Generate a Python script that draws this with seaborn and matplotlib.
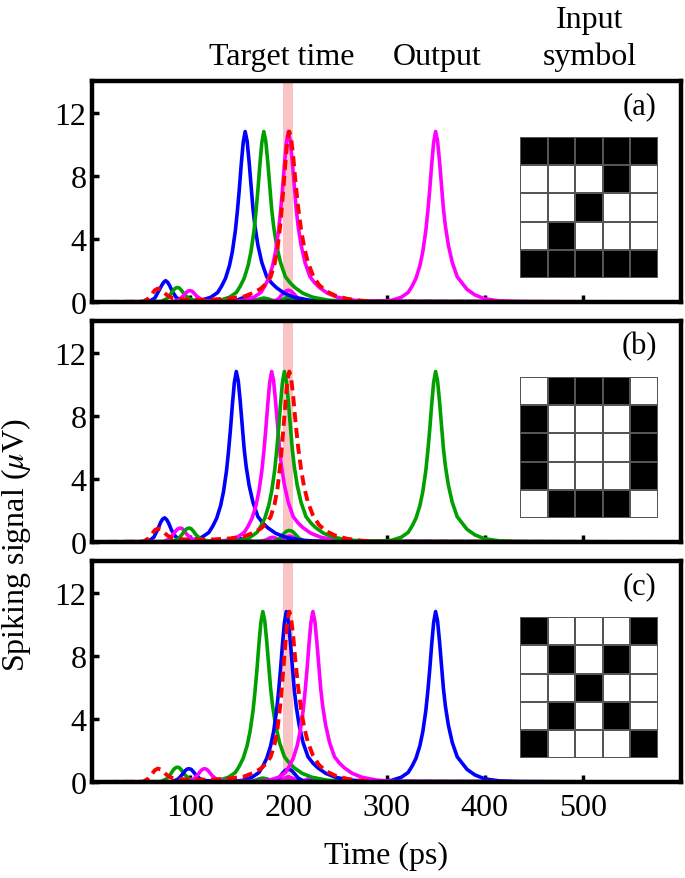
import numpy as np
import seaborn as sns
import matplotlib.pyplot as plt
from matplotlib.colors import ListedColormap

# axis ticks and the target window (ps)
time_ticks = [100, 200, 300, 400, 500]
signal_ticks = [0, 4, 8, 12]
target_window = [195, 205]

# output spike at 350 ps (shared shape)
output_t = [290, 305, 315, 322, 326, 330, 334, 337, 340, 342, 344, 346, 348, 350, 352,
            354, 356, 358, 360, 363, 367, 372, 377, 382, 390, 400, 415, 435, 600]
output_y = [0.05, 0.1, 0.3, 0.6, 1.0, 1.5, 2.3, 3.2, 4.5, 5.7, 7.1, 8.7, 10.1, 10.8, 10.2,
            8.9, 7.4, 5.9, 4.8, 3.6, 2.5, 1.6, 1.2, 0.8, 0.45, 0.2, 0.07, 0.02, 0]

# target signal (red dashed), same in every panel
target_t = [0, 52, 57, 61, 64, 67, 70, 73, 77, 82, 90, 100, 120, 140, 155, 165, 172, 178, 182, 186,
            189, 192, 195, 197, 199, 201, 203, 205, 207, 210, 213, 216, 220, 225, 231, 238, 248, 260, 275, 290, 600]
target_y = [0, 0.02, 0.2, 0.5, 0.75, 0.85, 0.8, 0.62, 0.4, 0.25, 0.18, 0.15, 0.15, 0.22, 0.35, 0.6, 0.85, 1.2, 1.6, 2.4,
            3.4, 5.0, 7.2, 8.8, 10.2, 10.8, 10.3, 9.2, 7.8, 6.0, 4.6, 3.5, 2.5, 1.7, 1.1, 0.7, 0.4, 0.2, 0.08, 0.02, 0]

# ---- panel (a)
a_blue_t = [0, 58, 64, 68, 71, 73, 75, 77, 79, 82, 86, 90, 96, 111, 121, 128, 132, 136, 140, 143,
            146, 148, 150, 152, 154, 156, 158, 160, 162, 164, 166, 169, 173, 178, 183, 188, 196, 206, 221, 241, 600]
a_blue_y = [0, 0.02, 0.25, 0.7, 1.05, 1.25, 1.35, 1.25, 1.05, 0.65, 0.27, 0.15, 0.08, 0.1, 0.3, 0.6, 1.0, 1.5, 2.3, 3.2,
            4.5, 5.7, 7.1, 8.7, 10.1, 10.8, 10.2, 8.9, 7.4, 5.9, 4.8, 3.6, 2.5, 1.6, 1.2, 0.9, 0.55, 0.3, 0.12, 0.03, 0]
a_blue_echo_t = [0, 140, 148, 153, 157, 161, 166, 175, 188, 194, 198, 200, 202, 206, 214, 600]
a_blue_echo_y = [0, 0.02, 0.12, 0.25, 0.3, 0.25, 0.12, 0.03, 0.03, 0.1, 0.19, 0.2, 0.18, 0.1, 0.02, 0]

a_green_t = [0, 70, 76, 80, 83, 85, 87, 89, 91, 94, 98, 103, 110, 115, 130, 140, 147, 151, 155, 159,
             162, 165, 167, 169, 171, 173, 175, 177, 179, 181, 183, 185, 188, 192, 197, 202, 207, 215, 225, 240, 260, 600]
a_green_y = [0, 0.02, 0.2, 0.5, 0.75, 0.88, 0.92, 0.88, 0.75, 0.5, 0.25, 0.12, 0.06, 0.05, 0.1, 0.3, 0.6, 1.0, 1.5, 2.3,
             3.2, 4.5, 5.7, 7.1, 8.7, 10.1, 10.8, 10.2, 8.9, 7.4, 5.9, 4.8, 3.6, 2.5, 1.6, 1.2, 0.9, 0.55, 0.3, 0.12, 0.03, 0]
a_green_echo_t = [0, 160, 167, 171, 175, 179, 184, 190, 194, 198, 200, 202, 206, 212, 600]
a_green_echo_y = [0, 0.02, 0.1, 0.2, 0.25, 0.2, 0.1, 0.05, 0.15, 0.28, 0.3, 0.28, 0.15, 0.03, 0]

a_magenta_t = [0, 83, 89, 93, 96, 98, 100, 102, 104, 107, 111, 116, 125, 140, 155, 165, 172, 176, 180, 184,
               187, 190, 192, 194, 196, 198, 200, 202, 204, 206, 208, 210, 213, 217, 222, 227, 232, 240, 250, 265, 280] + output_t
a_magenta_y = [0, 0.02, 0.15, 0.4, 0.6, 0.7, 0.72, 0.68, 0.55, 0.35, 0.18, 0.08, 0.03, 0.03, 0.1, 0.3, 0.6, 1.0, 1.5, 2.3,
               3.2, 4.5, 5.7, 7.1, 8.7, 10.1, 10.8, 10.2, 8.9, 7.4, 5.9, 4.8, 3.6, 2.5, 1.6, 1.2, 0.9, 0.55, 0.3, 0.12, 0.05] + output_y
a_magenta_echo_t = [0, 185, 190, 194, 197, 200, 203, 206, 210, 216, 600]
a_magenta_echo_y = [0, 0.03, 0.2, 0.5, 0.68, 0.75, 0.68, 0.5, 0.22, 0.05, 0]

# ---- panel (b)
b_blue_t = [0, 57, 63, 67, 70, 72, 74, 76, 78, 81, 85, 89, 95, 102, 112, 119, 123, 127, 131, 134,
            137, 139, 141, 143, 145, 147, 149, 151, 153, 155, 157, 160, 164, 169, 174, 179, 187, 197, 212, 232, 600]
b_blue_y = [0, 0.02, 0.3, 0.8, 1.25, 1.45, 1.53, 1.42, 1.2, 0.75, 0.35, 0.17, 0.12, 0.12, 0.3, 0.6, 1.0, 1.5, 2.3, 3.2,
            4.5, 5.7, 7.1, 8.7, 10.1, 10.8, 10.2, 8.9, 7.4, 5.9, 4.8, 3.6, 2.5, 1.6, 1.2, 0.9, 0.55, 0.3, 0.12, 0.03, 0]
b_blue_echo_t = [0, 132, 139, 143, 147, 151, 156, 164, 600]
b_blue_echo_y = [0, 0.02, 0.12, 0.22, 0.27, 0.22, 0.1, 0.02, 0]

b_magenta_t = [0, 73, 79, 83, 86, 88, 90, 92, 94, 97, 101, 106, 112, 123, 138, 148, 155, 159, 163, 167,
               170, 173, 175, 177, 179, 181, 183, 185, 187, 189, 191, 193, 196, 200, 205, 210, 215, 223, 233, 248, 268, 600]
b_magenta_y = [0, 0.02, 0.2, 0.5, 0.75, 0.85, 0.88, 0.84, 0.7, 0.45, 0.22, 0.1, 0.05, 0.03, 0.1, 0.3, 0.6, 1.0, 1.5, 2.3,
               3.2, 4.5, 5.7, 7.1, 8.7, 10.1, 10.8, 10.2, 8.9, 7.4, 5.9, 4.8, 3.6, 2.5, 1.6, 1.2, 0.9, 0.55, 0.3, 0.12, 0.03, 0]
b_magenta_echo_t = [0, 170, 177, 181, 184, 187, 191, 194, 197, 201, 205, 210, 218, 600]
b_magenta_echo_y = [0, 0.02, 0.12, 0.25, 0.3, 0.25, 0.12, 0.15, 0.3, 0.38, 0.3, 0.12, 0.02, 0]

b_green_t = [0, 82, 88, 92, 95, 97, 99, 101, 103, 106, 110, 115, 122, 136, 151, 161, 168, 172, 176, 180,
             183, 186, 188, 190, 192, 194, 196, 198, 200, 202, 204, 206, 209, 213, 218, 223, 228, 236, 246, 261, 280] + output_t
b_green_y = [0, 0.02, 0.2, 0.5, 0.75, 0.85, 0.88, 0.84, 0.7, 0.45, 0.22, 0.1, 0.05, 0.04, 0.1, 0.3, 0.6, 1.0, 1.5, 2.3,
             3.2, 4.5, 5.7, 7.1, 8.7, 10.1, 10.8, 10.2, 8.9, 7.4, 5.9, 4.8, 3.6, 2.5, 1.6, 1.2, 0.9, 0.55, 0.3, 0.12, 0.05] + output_y
b_green_echo_t = [0, 186, 191, 195, 198, 201, 204, 207, 211, 217, 600]
b_green_echo_y = [0, 0.03, 0.2, 0.5, 0.68, 0.73, 0.68, 0.5, 0.22, 0.05, 0]

# ---- panel (c)
c_green_t = [0, 70, 76, 80, 83, 85, 87, 89, 91, 94, 98, 103, 110, 114, 129, 139, 146, 150, 154, 158,
             161, 164, 166, 168, 170, 172, 174, 176, 178, 180, 182, 184, 187, 191, 196, 201, 206, 214, 224, 239, 259, 600]
c_green_y = [0, 0.02, 0.2, 0.5, 0.78, 0.9, 0.94, 0.9, 0.77, 0.5, 0.25, 0.12, 0.06, 0.05, 0.1, 0.3, 0.6, 1.0, 1.5, 2.3,
             3.2, 4.5, 5.7, 7.1, 8.7, 10.1, 10.8, 10.2, 8.9, 7.4, 5.9, 4.8, 3.6, 2.5, 1.6, 1.2, 0.9, 0.55, 0.3, 0.12, 0.03, 0]
c_green_echo_t = [0, 160, 166, 170, 174, 178, 183, 190, 195, 198, 200, 202, 206, 212, 600]
c_green_echo_y = [0, 0.02, 0.1, 0.2, 0.25, 0.2, 0.1, 0.03, 0.1, 0.18, 0.2, 0.18, 0.1, 0.02, 0]

c_blue_t = [0, 82, 88, 92, 95, 97, 99, 101, 103, 106, 110, 115, 122, 138, 153, 163, 170, 174, 178, 182,
            185, 188, 190, 192, 194, 196, 198, 200, 202, 204, 206, 208, 211, 215, 220, 225, 230, 238, 248, 263, 280] + output_t
c_blue_y = [0, 0.02, 0.2, 0.48, 0.72, 0.82, 0.84, 0.8, 0.67, 0.43, 0.2, 0.1, 0.05, 0.03, 0.1, 0.3, 0.6, 1.0, 1.5, 2.3,
            3.2, 4.5, 5.7, 7.1, 8.7, 10.1, 10.8, 10.2, 8.9, 7.4, 5.9, 4.8, 3.6, 2.5, 1.6, 1.2, 0.9, 0.55, 0.3, 0.12, 0.05] + output_y
c_blue_echo_t = [0, 185, 190, 194, 197, 200, 203, 206, 210, 216, 600]
c_blue_echo_y = [0, 0.03, 0.22, 0.55, 0.75, 0.8, 0.75, 0.55, 0.25, 0.05, 0]

c_magenta_t = [0, 98, 104, 108, 111, 113, 115, 117, 119, 122, 126, 131, 140, 165, 180, 190, 197, 201, 205, 209,
               212, 215, 217, 219, 221, 223, 225, 227, 229, 231, 233, 235, 238, 242, 247, 252, 257, 265, 275, 290, 310, 600]
c_magenta_y = [0, 0.02, 0.2, 0.48, 0.72, 0.82, 0.84, 0.8, 0.67, 0.43, 0.2, 0.1, 0.05, 0.03, 0.1, 0.3, 0.6, 1.0, 1.5, 2.3,
               3.2, 4.5, 5.7, 7.1, 8.7, 10.1, 10.8, 10.2, 8.9, 7.4, 5.9, 4.8, 3.6, 2.5, 1.6, 1.2, 0.9, 0.55, 0.3, 0.12, 0.03, 0]
c_magenta_echo_t = [0, 186, 192, 196, 200, 204, 209, 213, 217, 221, 225, 229, 234, 242, 600]
c_magenta_echo_y = [0, 0.02, 0.12, 0.25, 0.3, 0.25, 0.1, 0.05, 0.12, 0.22, 0.27, 0.22, 0.1, 0.02, 0]

# input symbols (1 = black pixel)
symbol_a = [[1, 1, 1, 1, 1], [0, 0, 0, 1, 0], [0, 0, 1, 0, 0], [0, 1, 0, 0, 0], [1, 1, 1, 1, 1]]
symbol_b = [[0, 1, 1, 1, 0], [1, 0, 0, 0, 1], [1, 0, 0, 0, 1], [1, 0, 0, 0, 1], [0, 1, 1, 1, 0]]
symbol_c = [[1, 0, 0, 0, 1], [0, 1, 0, 1, 0], [0, 0, 1, 0, 0], [0, 1, 0, 1, 0], [1, 0, 0, 0, 1]]

BLUE, GREEN, MAGENTA, RED = '#0000ff', '#00a000', '#ff00ff', '#ff0000'

panels = [
    ('(a)', symbol_a,
     [(a_blue_echo_t, a_blue_echo_y, BLUE), (a_green_echo_t, a_green_echo_y, GREEN),
      (a_magenta_echo_t, a_magenta_echo_y, MAGENTA)],
     [(a_blue_t, a_blue_y, BLUE), (a_green_t, a_green_y, GREEN), (a_magenta_t, a_magenta_y, MAGENTA)]),
    ('(b)', symbol_b,
     [(b_blue_echo_t, b_blue_echo_y, BLUE), (b_magenta_echo_t, b_magenta_echo_y, MAGENTA),
      (b_green_echo_t, b_green_echo_y, GREEN)],
     [(b_blue_t, b_blue_y, BLUE), (b_magenta_t, b_magenta_y, MAGENTA), (b_green_t, b_green_y, GREEN)]),
    ('(c)', symbol_c,
     [(c_green_echo_t, c_green_echo_y, GREEN), (c_magenta_echo_t, c_magenta_echo_y, MAGENTA),
      (c_blue_echo_t, c_blue_echo_y, BLUE)],
     [(c_green_t, c_green_y, GREEN), (c_blue_t, c_blue_y, BLUE), (c_magenta_t, c_magenta_y, MAGENTA)]),
]

sns.set_style('ticks')
plt.rcParams['font.family'] = ['Liberation Serif', 'DejaVu Serif']
plt.rcParams['mathtext.fontset'] = 'stix'
plt.rcParams['axes.edgecolor'] = 'black'
plt.rcParams['xtick.color'] = 'black'
plt.rcParams['ytick.color'] = 'black'
plt.rcParams['text.color'] = 'black'

FS = 23

fig = plt.figure(figsize=(6.85, 8.79), dpi=100)
boxes = [[0.1343, 0.6553, 0.8599, 0.2514],
         [0.1343, 0.3823, 0.8599, 0.2514],
         [0.1343, 0.1092, 0.8599, 0.2514]]

for i, (label, symbol, echoes, mains) in enumerate(panels):
    ax = fig.add_axes(boxes[i])
    ax.axvspan(target_window[0], target_window[1], color='#fbc4c4', lw=0, zorder=0)
    for t, y, c in echoes + mains:
        sns.lineplot(x=t, y=y, ax=ax, color=c, lw=2.6, sort=False, estimator=None)
    sns.lineplot(x=target_t, y=target_y, ax=ax, color=RED, lw=2.8, sort=False,
                 estimator=None, linestyle=(0, (2.6, 1.5)))

    ax.set_xlim(0, 600)
    ax.set_ylim(0, 14)
    ax.set_xticks(time_ticks)
    ax.set_yticks(signal_ticks)
    ax.set_xlabel('')
    ax.set_ylabel('')
    ax.tick_params(direction='in', length=5, width=2.5, labelsize=FS, colors='black')
    ax.tick_params(axis='y', pad=4)
    ax.tick_params(axis='x', pad=8)
    if i < 2:
        ax.set_xticklabels([])
    for s in ax.spines.values():
        s.set_linewidth(3.2)
        s.set_color('black')
    ax.text(0.93, 0.887, label, transform=ax.transAxes, ha='center', va='center', fontsize=22)

    inset = ax.inset_axes([0.727, 0.11, 0.234, 0.635])
    sns.heatmap(np.array(symbol), ax=inset, cmap=ListedColormap(['white', 'black']),
                vmin=0, vmax=1, cbar=False, linewidths=1.3, linecolor='#555555',
                xticklabels=False, yticklabels=False)

fig.text(0.412, 0.926, 'Target time', ha='center', va='baseline', fontsize=FS)
fig.text(0.638, 0.926, 'Output', ha='center', va='baseline', fontsize=FS)
fig.text(0.861, 0.968, 'Input', ha='center', va='baseline', fontsize=FS)
fig.text(0.861, 0.926, 'symbol', ha='center', va='baseline', fontsize=FS)
fig.text(0.5637, 0.017, 'Time (ps)', ha='center', va='baseline', fontsize=FS)
fig.text(0.024, 0.38, 'Spiking signal ($\\mu$V)', rotation=90, ha='center', va='center', fontsize=FS)

fig.savefig('out.png', dpi=100)
